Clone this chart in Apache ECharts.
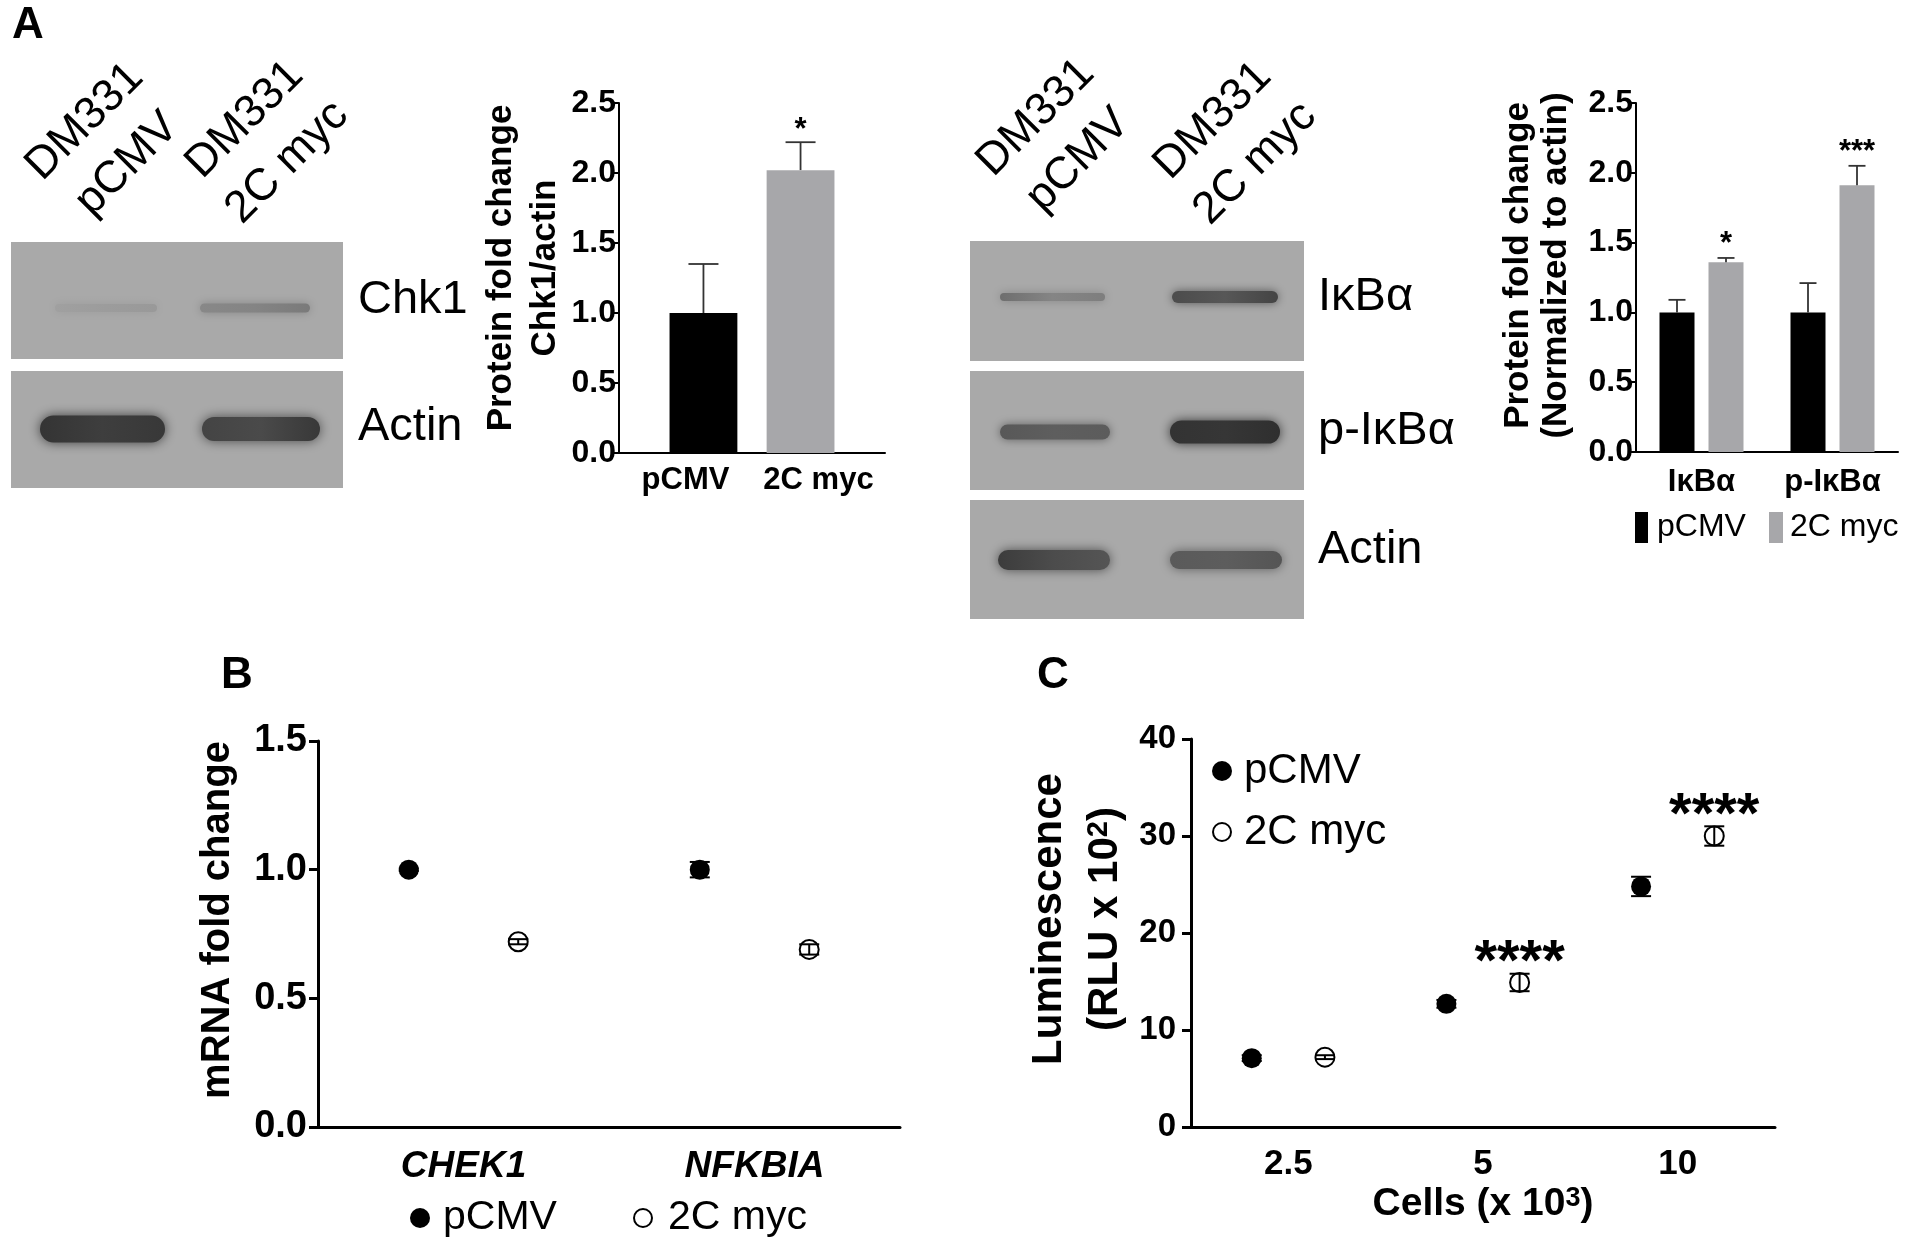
<!DOCTYPE html>
<html><head><meta charset="utf-8">
<script src="https://cdn.jsdelivr.net/npm/echarts@6/dist/echarts.min.js"></script>
<style>html,body{margin:0;padding:0;background:#fff}#chart{width:1912px;height:1253px}</style>
</head><body><div id="chart"></div><script>
// ---------- DATA ----------
const chk1Categories = ['pCMV', '2C myc'];
const chk1Fold = [1.0, 2.02];
const chk1Sem = [0.35, 0.20];
const chk1Sig = ['', '*'];

const ikbCategories = ['IκBα', 'p-IκBα'];
const ikbPcmv = [1.0, 1.0];
const ikbPcmvSem = [0.09, 0.21];
const ikbMyc = [1.36, 1.91];
const ikbMycSem = [0.03, 0.14];
const ikbMycSig = ['*', '***'];

const mrnaGenes = ['CHEK1', 'NFKBIA'];
const mrnaPcmv = [1.0, 1.0];
const mrnaPcmvSem = [0.005, 0.03];
const mrnaMyc = [0.72, 0.69];
const mrnaMycSem = [0.01, 0.02];

const cellCounts = ['2.5', '5', '10'];
const lumPcmv = [7.1, 12.7, 24.8];
const lumPcmvSem = [0.3, 0.4, 1.0];
const lumMyc = [7.2, 14.9, 30.0];
const lumMycSem = [0.2, 0.9, 1.0];
const lumMycSig = ['', '****', '****'];

const proteinTicks = [0.0, 0.5, 1.0, 1.5, 2.0, 2.5];
const mrnaTicks = [0.0, 0.5, 1.0, 1.5];
const lumTicks = [0, 10, 20, 30, 40];

// ---------- STYLE ----------
const FF = '"Liberation Sans", Arial, Helvetica, sans-serif';
const GRAY = '#a7a7aa';
const ERR = '#333333';

function txt(x, y, text, size, opts) {
  opts = opts || {};
  const align = opts.align || 'left';
  return {
    type: 'text', x: x, y: y, rotation: opts.rotation || 0,
    style: {
      text: text, fill: '#000',
      font: (opts.weight || 'normal') + ' ' + size + 'px ' + FF,
      align: align, verticalAlign: 'middle',
      textAlign: align, textVerticalAlign: 'middle',
      lineHeight: opts.lineHeight || undefined
    }
  };
}
function starEl(x, yTop, text, size, gap) {
  return txt(x, yTop - gap + 0.25 * size, text, size, {align: 'center', weight: 'bold'});
}
// blot band: colours given left / middle / right for a soft horizontal intensity profile
function band(x1, x2, yc, h, cols, blur) {
  return {type: 'rect', shape: {x: x1, y: yc - h / 2, width: x2 - x1, height: h, r: h / 2},
    style: {
      fill: {type: 'linear', x: 0, y: 0, x2: 1, y2: 0, colorStops: [
        {offset: 0, color: cols[0]}, {offset: 0.5, color: cols[1]}, {offset: 1, color: cols[2]}]},
      shadowBlur: blur || 10, shadowColor: cols[1]
    }};
}
function blotBg(x, y, w, h) {
  return {type: 'rect', shape: {x: x, y: y, width: w, height: h}, style: {fill: '#a9a9a9'}};
}

function supRich(nfs) {
  return {sup: {fontFamily: FF, fontWeight: 'bold', fontSize: Math.round(nfs * 0.7), color: '#000',
    padding: [0, 0, Math.round(nfs * 0.32), 0]}};
}
function yAxisCfg(gridIndex, ticks, o) {
  return {
    type: 'value', gridIndex: gridIndex,
    min: ticks[0], max: ticks[ticks.length - 1], interval: ticks[1] - ticks[0],
    axisLine: {show: true, lineStyle: {color: '#000', width: o.lw}},
    axisTick: {show: true, length: o.tickLen, lineStyle: {color: '#000', width: o.lw}},
    splitLine: {show: false},
    axisLabel: {color: '#000', fontFamily: FF, fontWeight: 'bold', fontSize: o.fs, margin: o.margin,
      formatter: function (v) { return o.decimals ? v.toFixed(1) : String(v); }},
    name: o.name, nameLocation: 'middle', nameRotate: 90, nameGap: o.gap,
    nameTextStyle: {color: '#000', fontFamily: FF, fontWeight: 'bold', fontSize: o.nfs,
      lineHeight: o.lh, padding: [0, 0, 0, o.shift], rich: supRich(o.nfs)}
  };
}
function xCatCfg(gridIndex, data, o) {
  const nfs = o.nfs || 12;
  return {
    type: 'category', gridIndex: gridIndex, data: data, boundaryGap: true,
    axisLine: {show: true, lineStyle: {color: '#000', width: o.lw}},
    axisTick: {show: false},
    axisLabel: {color: '#000', fontFamily: FF, fontWeight: 'bold', fontStyle: o.italic ? 'italic' : 'normal',
      fontSize: o.fs, margin: o.margin, interval: 0},
    name: o.name || '', nameLocation: 'middle', nameGap: o.gap || 0,
    nameTextStyle: {color: '#000', fontFamily: FF, fontWeight: 'bold', fontSize: nfs, rich: supRich(nfs)}
  };
}

// error bar series for grouped bars (chart A right)
function barErrSeries(vals, sems, side, sig) {
  return {
    type: 'custom', xAxisIndex: 1, yAxisIndex: 1, z: 5,
    data: vals.map(function (v, i) { return [i, v, sems[i]]; }),
    renderItem: function (params, api) {
      const i = api.value(0), v = api.value(1), e = api.value(2);
      const p1 = api.coord([i, v]), p2 = api.coord([i, v + e]);
      const cx = p1[0] + side * 24.5;
      const cap = 8.5;
      const ch = [
        {type: 'line', shape: {x1: cx, y1: p1[1], x2: cx, y2: p2[1]}, style: {stroke: ERR, lineWidth: 1.8}},
        {type: 'line', shape: {x1: cx - cap, y1: p2[1], x2: cx + cap, y2: p2[1]}, style: {stroke: ERR, lineWidth: 1.8}}
      ];
      if (sig && sig[params.dataIndex]) ch.push(starEl(cx, p2[1], sig[params.dataIndex], 31, 21));
      return {type: 'group', children: ch};
    }
  };
}

// dot-with-error series (panels B and C)
function pointSeries(name, axisIdx, vals, sems, filled, side, sig, sigSize, sigGap) {
  return {
    type: 'custom', name: name, xAxisIndex: axisIdx, yAxisIndex: axisIdx, z: 5,
    data: vals.map(function (v, i) { return [i, v, sems[i]]; }),
    renderItem: function (params, api) {
      const i = api.value(0), v = api.value(1), e = api.value(2);
      const c = api.coord([i, v]);
      const bw = api.size([1, 0])[0];
      const cx = c[0] + side * bw * 0.188;
      const yHi = api.coord([i, v + e])[1], yLo = api.coord([i, v - e])[1];
      const cap = 10;
      const ls = {stroke: '#000', lineWidth: 2};
      const ch = [
        {type: 'circle', shape: {cx: cx, cy: c[1], r: filled ? 10 : 9.5},
          style: filled ? {fill: '#000'} : {fill: '#fff', stroke: '#000', lineWidth: 2}},
        {type: 'line', shape: {x1: cx, y1: yHi, x2: cx, y2: yLo}, style: ls},
        {type: 'line', shape: {x1: cx - cap, y1: yHi, x2: cx + cap, y2: yHi}, style: ls},
        {type: 'line', shape: {x1: cx - cap, y1: yLo, x2: cx + cap, y2: yLo}, style: ls}
      ];
      if (sig && sig[params.dataIndex]) ch.push(starEl(cx, yHi, sig[params.dataIndex], sigSize, sigGap));
      return {type: 'group', children: ch};
    }
  };
}

// ---------- GRAPHIC (blots, labels, legends) ----------
const graphics = [
  txt(12, 26, 'A', 44, {weight: 'bold'}),
  txt(221, 676, 'B', 44, {weight: 'bold'}),
  txt(1037, 676, 'C', 44, {weight: 'bold'}),
  // left blot lane labels
  txt(106, 143, 'DM331\npCMV', 45, {align: 'center', rotation: Math.PI / 4, lineHeight: 60}),
  txt(266, 141, 'DM331\n2C myc', 45, {align: 'center', rotation: Math.PI / 4, lineHeight: 60}),
  // left blots
  blotBg(11, 242, 332, 117),
  blotBg(11, 371, 332, 117),
  band(55, 157, 308, 8, ['#a0a0a0', '#9c9c9c', '#999999'], 10),
  band(200, 310, 308, 9, ['#888888', '#848484', '#7a7a7a'], 10),
  band(40, 165, 429, 27, ['#343434', '#3e3e3e', '#383838'], 12),
  band(202, 320, 429, 24, ['#444444', '#4a4a4a', '#383838'], 12),
  txt(358, 300, 'Chk1', 47),
  txt(358, 427, 'Actin', 47),
  // right blot lane labels
  txt(1057, 139, 'DM331\npCMV', 45, {align: 'center', rotation: Math.PI / 4, lineHeight: 60}),
  txt(1234, 142, 'DM331\n2C myc', 45, {align: 'center', rotation: Math.PI / 4, lineHeight: 60}),
  // right blots
  blotBg(970, 241, 334, 120),
  blotBg(970, 371, 334, 119),
  blotBg(970, 500, 334, 119),
  band(1000, 1105, 297, 8, ['#6e6e6e', '#858585', '#7e7e7e'], 10),
  band(1172, 1278, 297, 12, ['#4c4c4c', '#575757', '#444444'], 10),
  band(1000, 1110, 432, 15, ['#585858', '#5e5e5e', '#5c5c5c'], 10),
  band(1170, 1280, 432, 23, ['#333333', '#363636', '#2f2f2f'], 11),
  band(998, 1110, 560, 20, ['#3c3c3c', '#4c4c4c', '#555555'], 11),
  band(1170, 1282, 560, 18, ['#5a5a5a', '#5d5d5d', '#555555'], 11),
  txt(1318, 297, 'IκBα', 47),
  txt(1318, 431, 'p-IκBα', 47),
  txt(1318, 550, 'Actin', 47),
  // legend, right protein chart
  {type: 'rect', shape: {x: 1635, y: 512, width: 13, height: 31}, style: {fill: '#000'}},
  txt(1657, 527, 'pCMV', 32),
  {type: 'rect', shape: {x: 1769, y: 512, width: 14, height: 31}, style: {fill: GRAY}},
  txt(1790, 527, '2C myc', 32),
  // legend B
  {type: 'circle', shape: {cx: 420, cy: 1218, r: 10}, style: {fill: '#000'}},
  txt(443, 1218, 'pCMV', 41),
  {type: 'circle', shape: {cx: 643, cy: 1218, r: 9}, style: {fill: '#fff', stroke: '#000', lineWidth: 2}},
  txt(668, 1218, '2C myc', 41),
  // legend C
  {type: 'circle', shape: {cx: 1222, cy: 771, r: 10}, style: {fill: '#000'}},
  txt(1244, 771, 'pCMV', 42),
  {type: 'circle', shape: {cx: 1222, cy: 832, r: 9}, style: {fill: '#fff', stroke: '#000', lineWidth: 2}},
  txt(1244, 832, '2C myc', 42)
];

// ---------- OPTION ----------
const option = {
  animation: false,
  backgroundColor: '#fff',
  graphic: {elements: graphics},
  grid: [
    {left: 619, top: 103, width: 266, height: 350},
    {left: 1636, top: 103, width: 262, height: 349},
    {left: 318, top: 741, width: 582, height: 386},
    {left: 1191, top: 739, width: 584, height: 388}
  ],
  xAxis: [
    xCatCfg(0, chk1Categories, {lw: 2, fs: 31, margin: 12}),
    xCatCfg(1, ikbCategories, {lw: 2, fs: 31, margin: 15}),
    xCatCfg(2, mrnaGenes, {lw: 3, fs: 37, margin: 21, italic: true}),
    xCatCfg(3, cellCounts, {lw: 3, fs: 35, margin: 20, name: 'Cells (x 10{sup|3})', gap: 58, nfs: 39})
  ],
  yAxis: [
    yAxisCfg(0, proteinTicks, {lw: 2, tickLen: 5, fs: 32, margin: 3, decimals: true,
      name: 'Protein fold change\nChk1/actin', gap: 48, nfs: 35, lh: 44, shift: 20}),
    yAxisCfg(1, proteinTicks, {lw: 2, tickLen: 5, fs: 32, margin: 3, decimals: true,
      name: 'Protein fold change\n(Normalized to actin)', gap: 61, nfs: 35, lh: 38, shift: 24}),
    yAxisCfg(2, mrnaTicks, {lw: 3, tickLen: 9, fs: 38, margin: 11, decimals: true,
      name: 'mRNA fold change', gap: 80, nfs: 40, lh: 40, shift: 28}),
    yAxisCfg(3, lumTicks, {lw: 3, tickLen: 9, fs: 33, margin: 15, decimals: false,
      name: 'Luminescence\n(RLU x 10{sup|2})', gap: 58, nfs: 42, lh: 56, shift: 28})
  ],
  series: [
    {
      type: 'custom', name: 'Chk1/actin', xAxisIndex: 0, yAxisIndex: 0,
      data: chk1Fold.map(function (v, i) { return [i, v, chk1Sem[i]]; }),
      renderItem: function (params, api) {
        const i = api.value(0), v = api.value(1), e = api.value(2);
        const p0 = api.coord([i, 0]), p1 = api.coord([i, v]), p2 = api.coord([i, v + e]);
        const bw = api.size([1, 0])[0];
        const cx = p0[0] + (i === 0 ? 1 : -1) * bw * 0.135;
        const w = bw * 0.51;
        const cap = 15;
        const ch = [
          {type: 'line', shape: {x1: cx, y1: p1[1], x2: cx, y2: p2[1]}, style: {stroke: ERR, lineWidth: 1.8}},
          {type: 'line', shape: {x1: cx - cap, y1: p2[1], x2: cx + cap, y2: p2[1]}, style: {stroke: ERR, lineWidth: 1.8}},
          {type: 'rect', shape: {x: cx - w / 2, y: p1[1], width: w, height: p0[1] - p1[1]},
            style: {fill: i === 0 ? '#000' : GRAY}}
        ];
        const s = chk1Sig[params.dataIndex];
        if (s) ch.push(starEl(cx, p2[1], s, 31, 19));
        return {type: 'group', children: ch};
      }
    },
    {type: 'bar', name: 'pCMV', xAxisIndex: 1, yAxisIndex: 1, data: ikbPcmv,
      barWidth: 35, barGap: '40%', itemStyle: {color: '#000'}},
    {type: 'bar', name: '2C myc', xAxisIndex: 1, yAxisIndex: 1, data: ikbMyc,
      barWidth: 35, barGap: '40%', itemStyle: {color: GRAY}},
    barErrSeries(ikbPcmv, ikbPcmvSem, -1, null),
    barErrSeries(ikbMyc, ikbMycSem, 1, ikbMycSig),
    pointSeries('pCMV', 2, mrnaPcmv, mrnaPcmvSem, true, -1, null),
    pointSeries('2C myc', 2, mrnaMyc, mrnaMycSem, false, 1, null),
    pointSeries('pCMV', 3, lumPcmv, lumPcmvSem, true, -1, null),
    pointSeries('2C myc', 3, lumMyc, lumMycSem, false, 1, lumMycSig, 58, 24)
  ]
};

const chart = echarts.init(document.getElementById('chart'), null, {renderer: 'canvas', width: 1912, height: 1253});
chart.setOption(option);
</script></body></html>
